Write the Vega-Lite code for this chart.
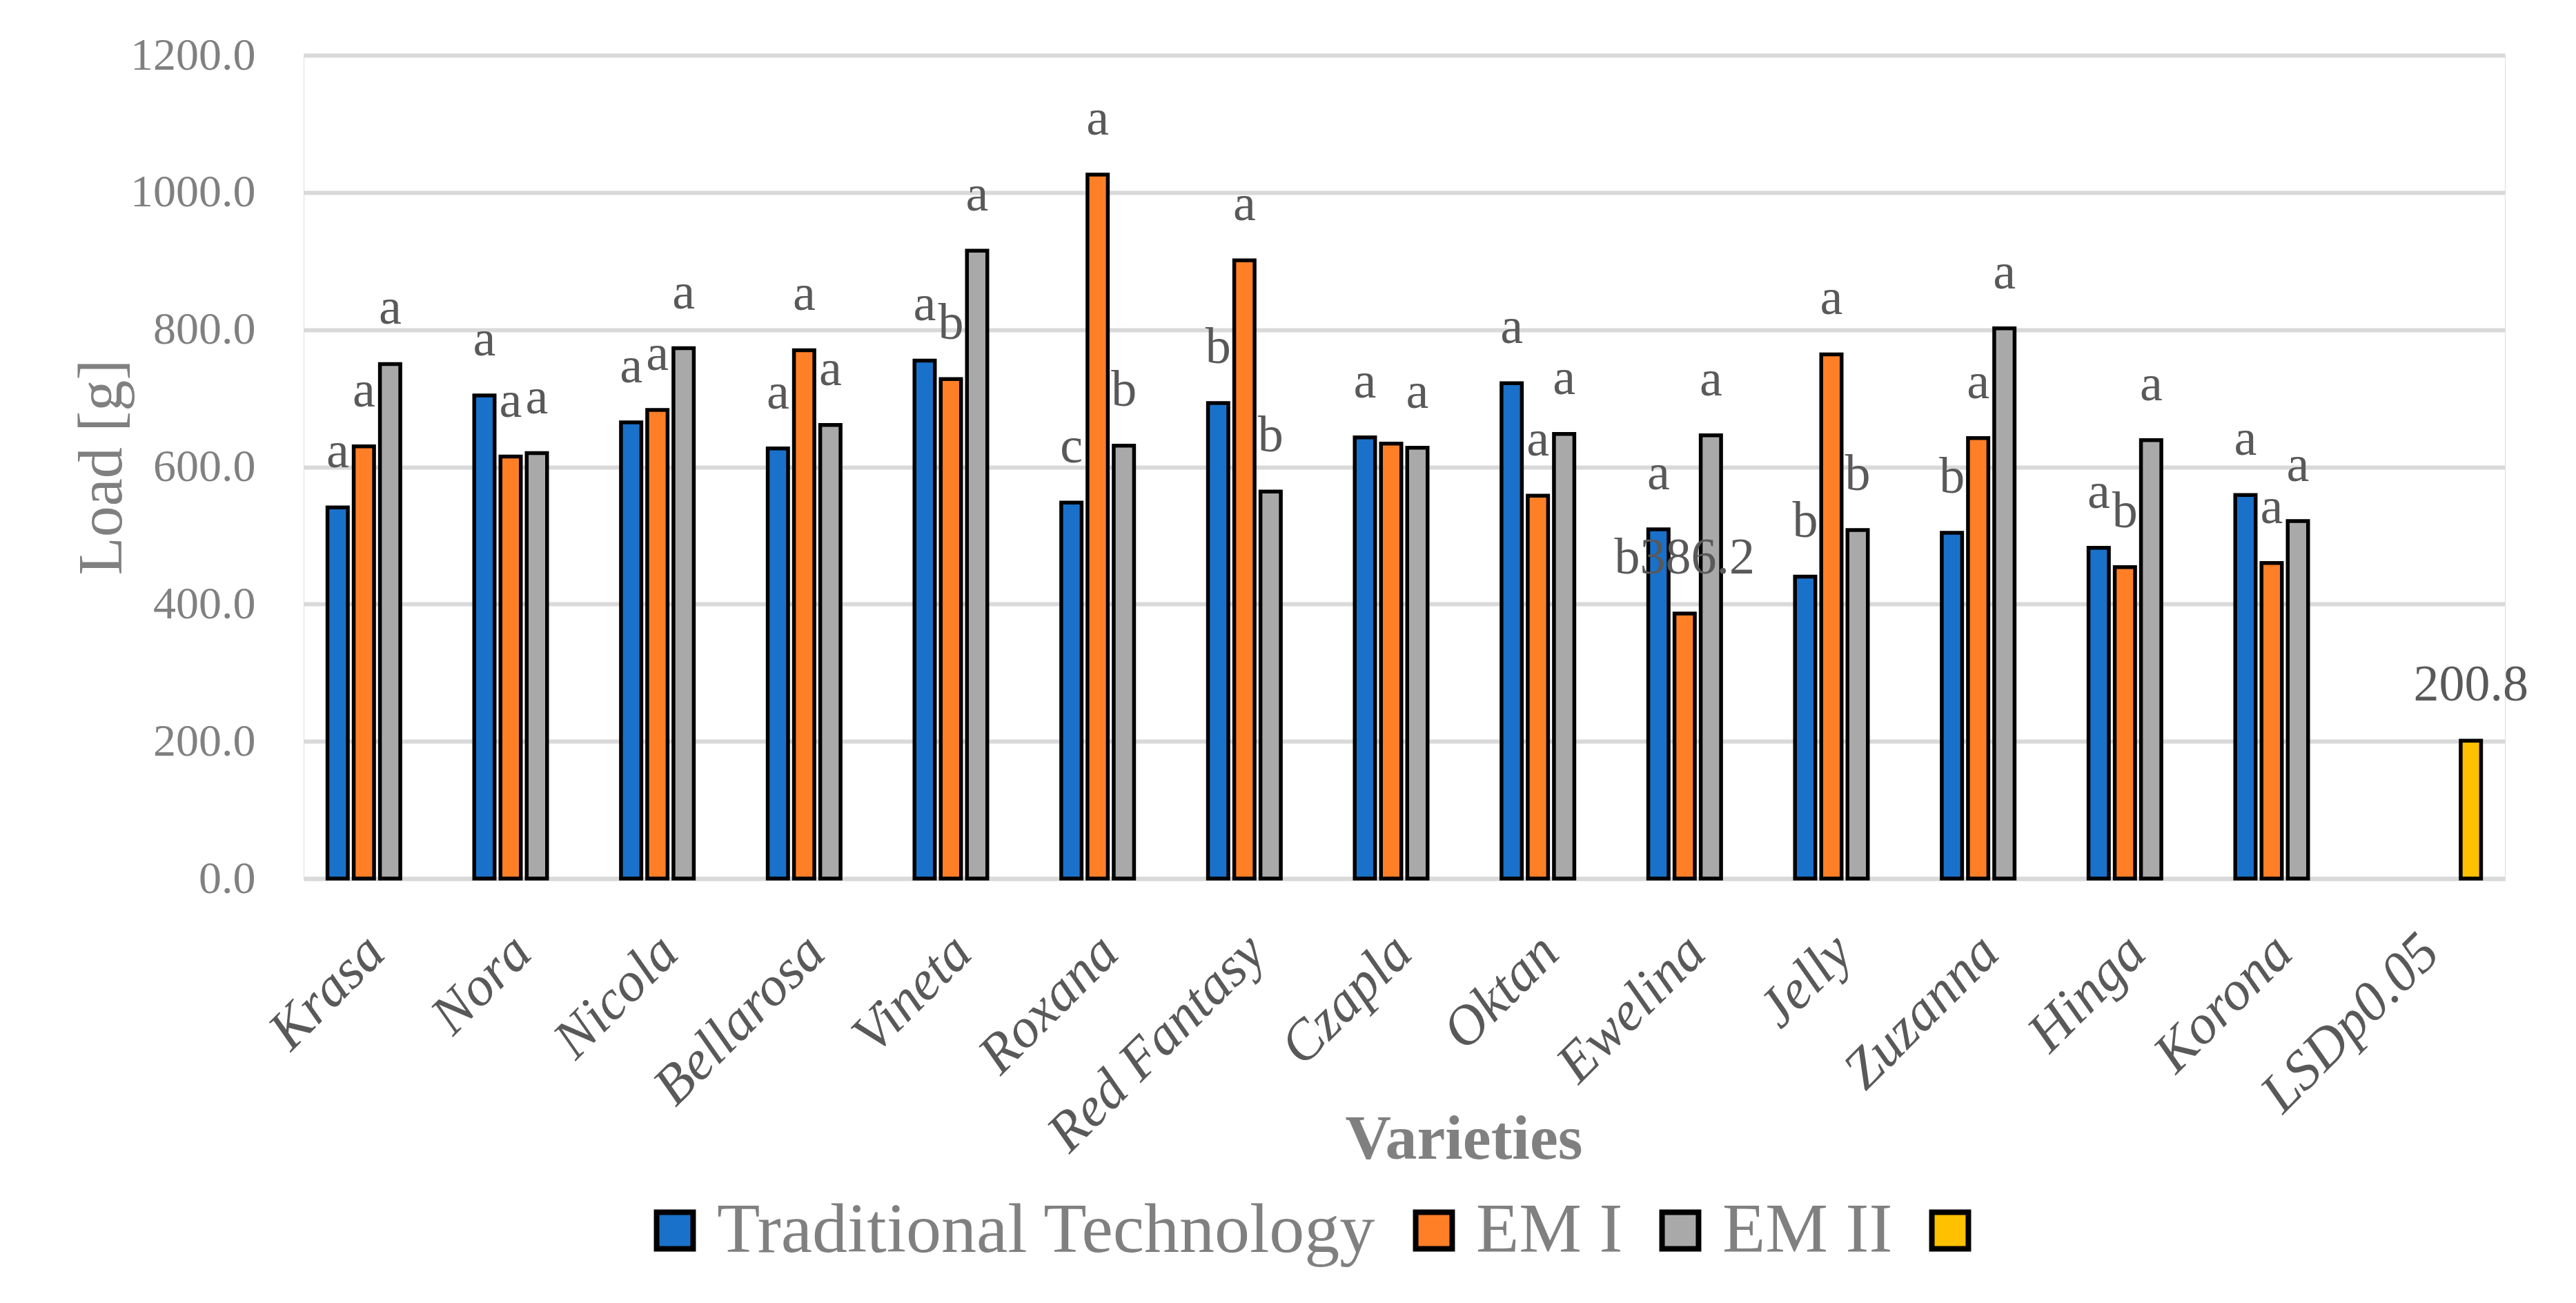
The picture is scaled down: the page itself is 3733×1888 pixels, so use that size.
{
  "$schema": "https://vega.github.io/schema/vega-lite/v6.json",
  "autosize": {"type": "none"},
  "padding": {"left": 440, "top": 80, "right": 103, "bottom": 615},
  "width": 3190,
  "height": 1193,
  "background": "white",
  "data": {
    "values": [
      {"variety": "Krasa", "series": "Traditional Technology", "value": 541, "label": "a"},
      {"variety": "Krasa", "series": "EM I", "value": 630, "label": "a"},
      {"variety": "Krasa", "series": "EM II", "value": 750, "label": "a"},
      {"variety": "Nora", "series": "Traditional Technology", "value": 704, "label": "a"},
      {"variety": "Nora", "series": "EM I", "value": 615, "label": "a"},
      {"variety": "Nora", "series": "EM II", "value": 620, "label": "a"},
      {"variety": "Nicola", "series": "Traditional Technology", "value": 665, "label": "a"},
      {"variety": "Nicola", "series": "EM I", "value": 683, "label": "a"},
      {"variety": "Nicola", "series": "EM II", "value": 773, "label": "a"},
      {"variety": "Bellarosa", "series": "Traditional Technology", "value": 627, "label": "a"},
      {"variety": "Bellarosa", "series": "EM I", "value": 770, "label": "a"},
      {"variety": "Bellarosa", "series": "EM II", "value": 661, "label": "a"},
      {"variety": "Vineta", "series": "Traditional Technology", "value": 755, "label": "a"},
      {"variety": "Vineta", "series": "EM I", "value": 728, "label": "b"},
      {"variety": "Vineta", "series": "EM II", "value": 915, "label": "a"},
      {"variety": "Roxana", "series": "Traditional Technology", "value": 548, "label": "c"},
      {"variety": "Roxana", "series": "EM I", "value": 1026, "label": "a"},
      {"variety": "Roxana", "series": "EM II", "value": 631, "label": "b"},
      {"variety": "Red Fantasy", "series": "Traditional Technology", "value": 693, "label": "b"},
      {"variety": "Red Fantasy", "series": "EM I", "value": 901, "label": "a"},
      {"variety": "Red Fantasy", "series": "EM II", "value": 564, "label": "b"},
      {"variety": "Czapla", "series": "Traditional Technology", "value": 643, "label": "a"},
      {"variety": "Czapla", "series": "EM I", "value": 634, "label": ""},
      {"variety": "Czapla", "series": "EM II", "value": 628, "label": "a"},
      {"variety": "Oktan", "series": "Traditional Technology", "value": 722, "label": "a"},
      {"variety": "Oktan", "series": "EM I", "value": 558, "label": "a"},
      {"variety": "Oktan", "series": "EM II", "value": 648, "label": "a"},
      {"variety": "Ewelina", "series": "Traditional Technology", "value": 509, "label": "a"},
      {"variety": "Ewelina", "series": "EM I", "value": 386.2, "label": "b386.2"},
      {"variety": "Ewelina", "series": "EM II", "value": 646, "label": "a"},
      {"variety": "Jelly", "series": "Traditional Technology", "value": 440, "label": "b"},
      {"variety": "Jelly", "series": "EM I", "value": 764, "label": "a"},
      {"variety": "Jelly", "series": "EM II", "value": 508, "label": "b"},
      {"variety": "Zuzanna", "series": "Traditional Technology", "value": 504, "label": "b"},
      {"variety": "Zuzanna", "series": "EM I", "value": 642, "label": "a"},
      {"variety": "Zuzanna", "series": "EM II", "value": 802, "label": "a"},
      {"variety": "Hinga", "series": "Traditional Technology", "value": 482, "label": "a"},
      {"variety": "Hinga", "series": "EM I", "value": 454, "label": "b"},
      {"variety": "Hinga", "series": "EM II", "value": 639, "label": "a"},
      {"variety": "Korona", "series": "Traditional Technology", "value": 559, "label": "a"},
      {"variety": "Korona", "series": "EM I", "value": 460, "label": "a"},
      {"variety": "Korona", "series": "EM II", "value": 521, "label": "a"},
      {"variety": "LSDp0.05", "series": "LSD", "value": 200.8, "label": "200.8"}
    ]
  },
  "encoding": {
    "x": {
      "field": "variety",
      "type": "nominal",
      "sort": null,
      "scale": {"paddingInner": 0.285, "paddingOuter": 0.1425},
      "axis": {
        "title": "Varieties",
        "titleFont": "Liberation Serif",
        "titleFontSize": 92,
        "titleFontWeight": "bold",
        "titleColor": "#808080",
        "titleX": 1681,
        "titleY": 405,
        "titleAlign": "center",
        "titleBaseline": "alphabetic",
        "labelAngle": -45,
        "labelFont": "Liberation Serif",
        "labelFontStyle": "italic",
        "labelFontSize": 81,
        "labelColor": "#595959",
        "labelPadding": 66,
        "labelOffset": -30,
        "labelLimit": 2000,
        "ticks": false,
        "domainColor": "#d9d9d9",
        "domainWidth": 6,
        "grid": false
      }
    },
    "xOffset": {
      "field": "series",
      "type": "nominal",
      "sort": ["Traditional Technology", "EM I", "EM II", "LSD"],
      "scale": {"domain": ["Traditional Technology", "EM I", "EM II", "LSD"], "paddingInner": 0.224, "paddingOuter": 0.112}
    },
    "y": {
      "field": "value",
      "type": "quantitative",
      "scale": {"domain": [0, 1200], "nice": false},
      "axis": {
        "title": "Load [g]",
        "titleFont": "Liberation Serif",
        "titleFontSize": 90,
        "titleFontWeight": "normal",
        "titleColor": "#808080",
        "titlePadding": 46,
        "values": [0, 200, 400, 600, 800, 1000, 1200],
        "format": ".1f",
        "labelFont": "Liberation Serif",
        "labelFontSize": 66,
        "labelColor": "#808080",
        "labelPadding": 70,
        "labelLimit": 1000,
        "ticks": false,
        "domain": false,
        "grid": true,
        "gridColor": "#d9d9d9",
        "gridWidth": 6
      }
    }
  },
  "layer": [
    {
      "mark": {"type": "bar", "stroke": "black", "strokeWidth": 5.5},
      "encoding": {
        "color": {
          "field": "series",
          "type": "nominal",
          "scale": {
            "domain": ["Traditional Technology", "EM I", "EM II", "LSD"],
            "range": ["#1a71c9", "#ff7f27", "#a9a9a9", "#ffc000"]
          },
          "legend": {
            "title": null,
            "orient": "none",
            "legendX": 487,
            "legendY": 1652,
            "direction": "horizontal",
            "columns": 4,
            "padding": 0,
            "symbolType": "square",
            "symbolSize": 2800,
            "symbolStrokeColor": "black",
            "symbolStrokeWidth": 8,
            "symbolOpacity": 1,
            "labelFont": "Liberation Serif",
            "labelFontSize": 102,
            "labelColor": "#808080",
            "labelLimit": 2000,
            "labelOffset": 10,
            "columnPadding": 32,
            "labelExpr": "datum.label == 'LSD' ? '' : datum.label"
          }
        }
      }
    },
    {
      "mark": {"type": "text", "font": "Liberation Serif", "fontSize": 74, "color": "#595959", "baseline": "alphabetic", "align": "center", "dy": -58},
      "encoding": {
        "text": {"field": "label", "type": "nominal"}
      }
    }
  ]
}
